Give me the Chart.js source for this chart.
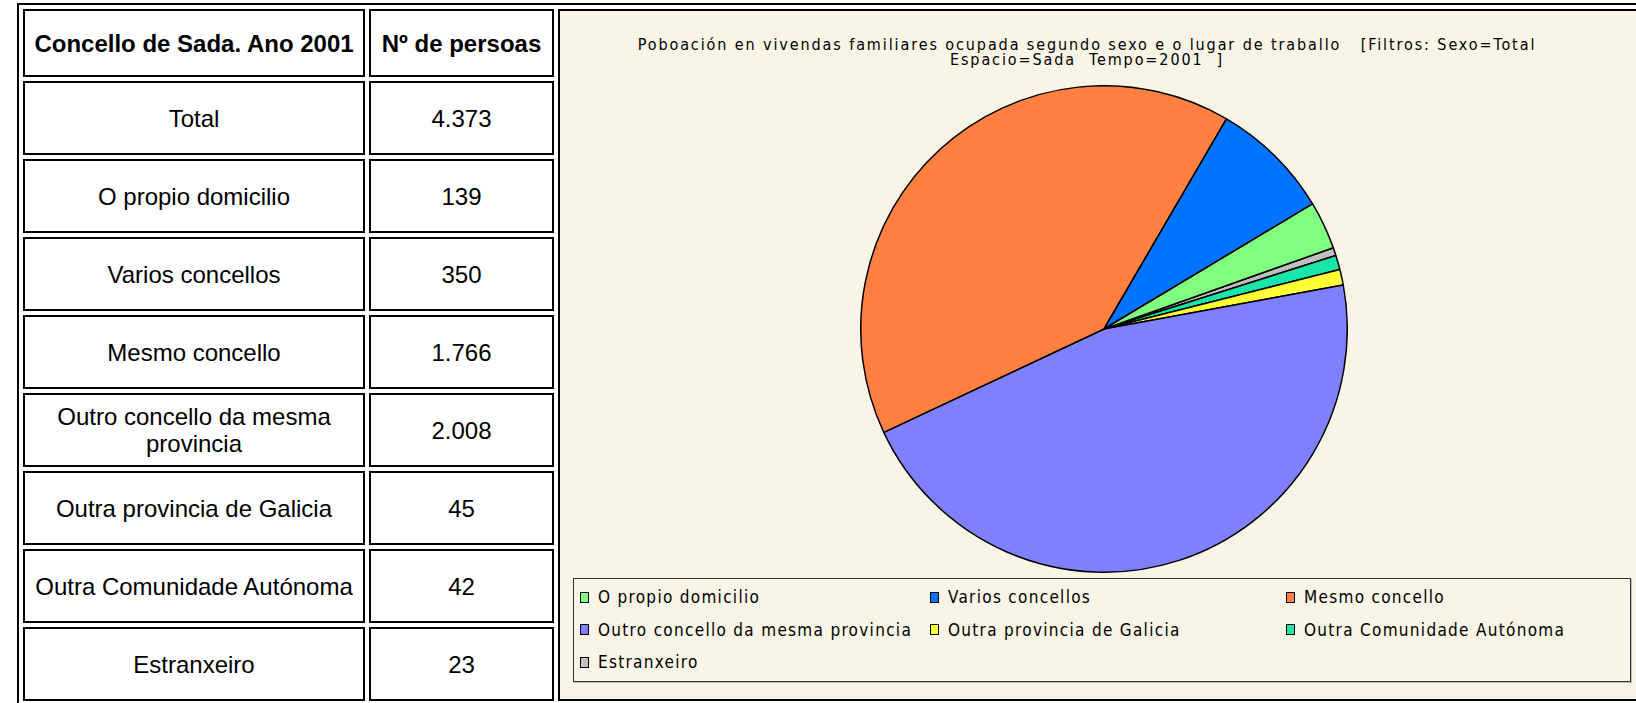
<!DOCTYPE html>
<html lang="gl">
<head>
<meta charset="utf-8">
<title>Concello de Sada. Ano 2001</title>
<script src="https://cdn.jsdelivr.net/npm/chart.js@4.4.1/dist/chart.umd.min.js"></script>
<style>
  html, body { margin: 0; padding: 0; background: #fff; overflow: hidden; }
  body { width: 1636px; height: 703px; position: relative; }
  #frame {
    position: absolute; left: 17px; top: 3px; width: 1651px;
    border: 2px solid #000;
    border-collapse: separate; border-spacing: 4px;
    table-layout: fixed;
    font-family: "Liberation Sans", Arial, sans-serif;
    font-size: 24px; color: #000;
  }
  #frame td {
    border: 2px solid #000; padding: 0 6px;
    text-align: center; vertical-align: middle;
    background: #fff; line-height: 27px;
  }
  #frame tr.head td { height: 64px; font-weight: bold; }
  #frame tr.row td { height: 70px; }
  #frame td.c1 { width: 326px; }
  #frame td.c2 { width: 169px; }
  #frame tr.head td.panel {
    width: 1100px; padding: 0; vertical-align: top;
    background: #f8f4e6; font-weight: normal; line-height: normal;
  }
  #panel { position: relative; width: 1100px; height: 688px; text-align: left; font-weight: normal; }
  #title {
    position: absolute; left: 0; top: 26px; width: 1054px;
    text-align: center; white-space: pre;
    font-family: "DejaVu Sans Condensed", "DejaVu Sans", sans-serif;
    font-size: 16px; letter-spacing: 1.9px; line-height: 15px;
    color: #000;
  }
  #pie { position: absolute; left: 300px; top: 74px; }
  #legend {
    position: absolute; left: 13px; top: 567px; width: 1058px; height: 104px;
    box-sizing: border-box; border: 1.5px solid #333;
    box-shadow: 1px 1px 0 #bbb;
    font-family: "DejaVu Sans Condensed", "DejaVu Sans", sans-serif;
    font-size: 17px; letter-spacing: 1.3px; color: #000;
  }
  .item { position: absolute; display: flex; align-items: center; height: 20px; white-space: nowrap; }
  .swatch { width: 7px; height: 9px; border: 1px solid #000; margin-right: 9px; flex: none; }
</style>
</head>
<body>
<table id="frame">
  <tbody id="rows"></tbody>
</table>

<script>
// Poboación ocupada por lugar de traballo, Sada 2001
const categories = [
  'O propio domicilio',
  'Varios concellos',
  'Mesmo concello',
  'Outro concello da mesma provincia',
  'Outra provincia de Galicia',
  'Outra Comunidade Autónoma',
  'Estranxeiro'
];
const persons = [139, 350, 1766, 2008, 45, 42, 23];
const totalPersons = 4373;
const sliceColors = ['#80ff80', '#0073ff', '#ff8040', '#8080ff', '#ffff33', '#19e6a8', '#c0c0c0'];

const tableHeader = ['Concello de Sada. Ano 2001', 'Nº de persoas'];
const chartTitle = 'Poboación en vivendas familiares ocupada segundo sexo e o lugar de traballo   [Filtros: Sexo=Total\nEspacio=Sada  Tempo=2001  ]';

// legend grid: column offsets and row offsets inside the legend box
const legendCols = [6, 356, 712];
const legendRows = [8, 40.5, 73];

function fmt(n) {
  return String(n).replace(/\B(?=(\d{3})+(?!\d))/g, '.');
}

// build the data table, the chart cell spans every row
const tbody = document.getElementById('rows');
const head = document.createElement('tr');
head.className = 'head';
head.innerHTML = `<td class="c1">${tableHeader[0]}</td><td class="c2">${tableHeader[1]}</td>` +
  `<td class="panel" rowspan="9"><div id="panel">` +
  `<div id="title"></div><canvas id="pie" width="488" height="488"></canvas><div id="legend"></div>` +
  `</div></td>`;
tbody.appendChild(head);

const tableLabels = ['Total'].concat(categories);
const tableValues = [totalPersons].concat(persons);
tableLabels.forEach((lab, i) => {
  const tr = document.createElement('tr');
  tr.className = 'row';
  tr.innerHTML = `<td class="c1">${lab}</td><td class="c2">${fmt(tableValues[i])}</td>`;
  tbody.appendChild(tr);
});

document.getElementById('title').textContent = chartTitle;

const legend = document.getElementById('legend');
categories.forEach((lab, i) => {
  const it = document.createElement('div');
  it.className = 'item';
  it.style.left = legendCols[i % 3] + 'px';
  it.style.top = legendRows[Math.floor(i / 3)] + 'px';
  it.innerHTML = `<span class="swatch" style="background:${sliceColors[i]}"></span><span>${lab}</span>`;
  legend.appendChild(it);
});

// slices run anticlockwise in category order, Chart.js draws clockwise,
// so feed it the reversed lists
const ctx = document.getElementById('pie').getContext('2d');
new Chart(ctx, {
  type: 'pie',
  data: {
    labels: categories.slice().reverse(),
    datasets: [{
      data: persons.slice().reverse(),
      backgroundColor: sliceColors.slice().reverse(),
      borderColor: '#000',
      borderWidth: 1.5
    }]
  },
  options: {
    responsive: false,
    animation: false,
    rotation: 70.5,
    layout: { padding: 0 },
    plugins: { legend: { display: false }, tooltip: { enabled: false } }
  }
});
</script>
</body>
</html>
